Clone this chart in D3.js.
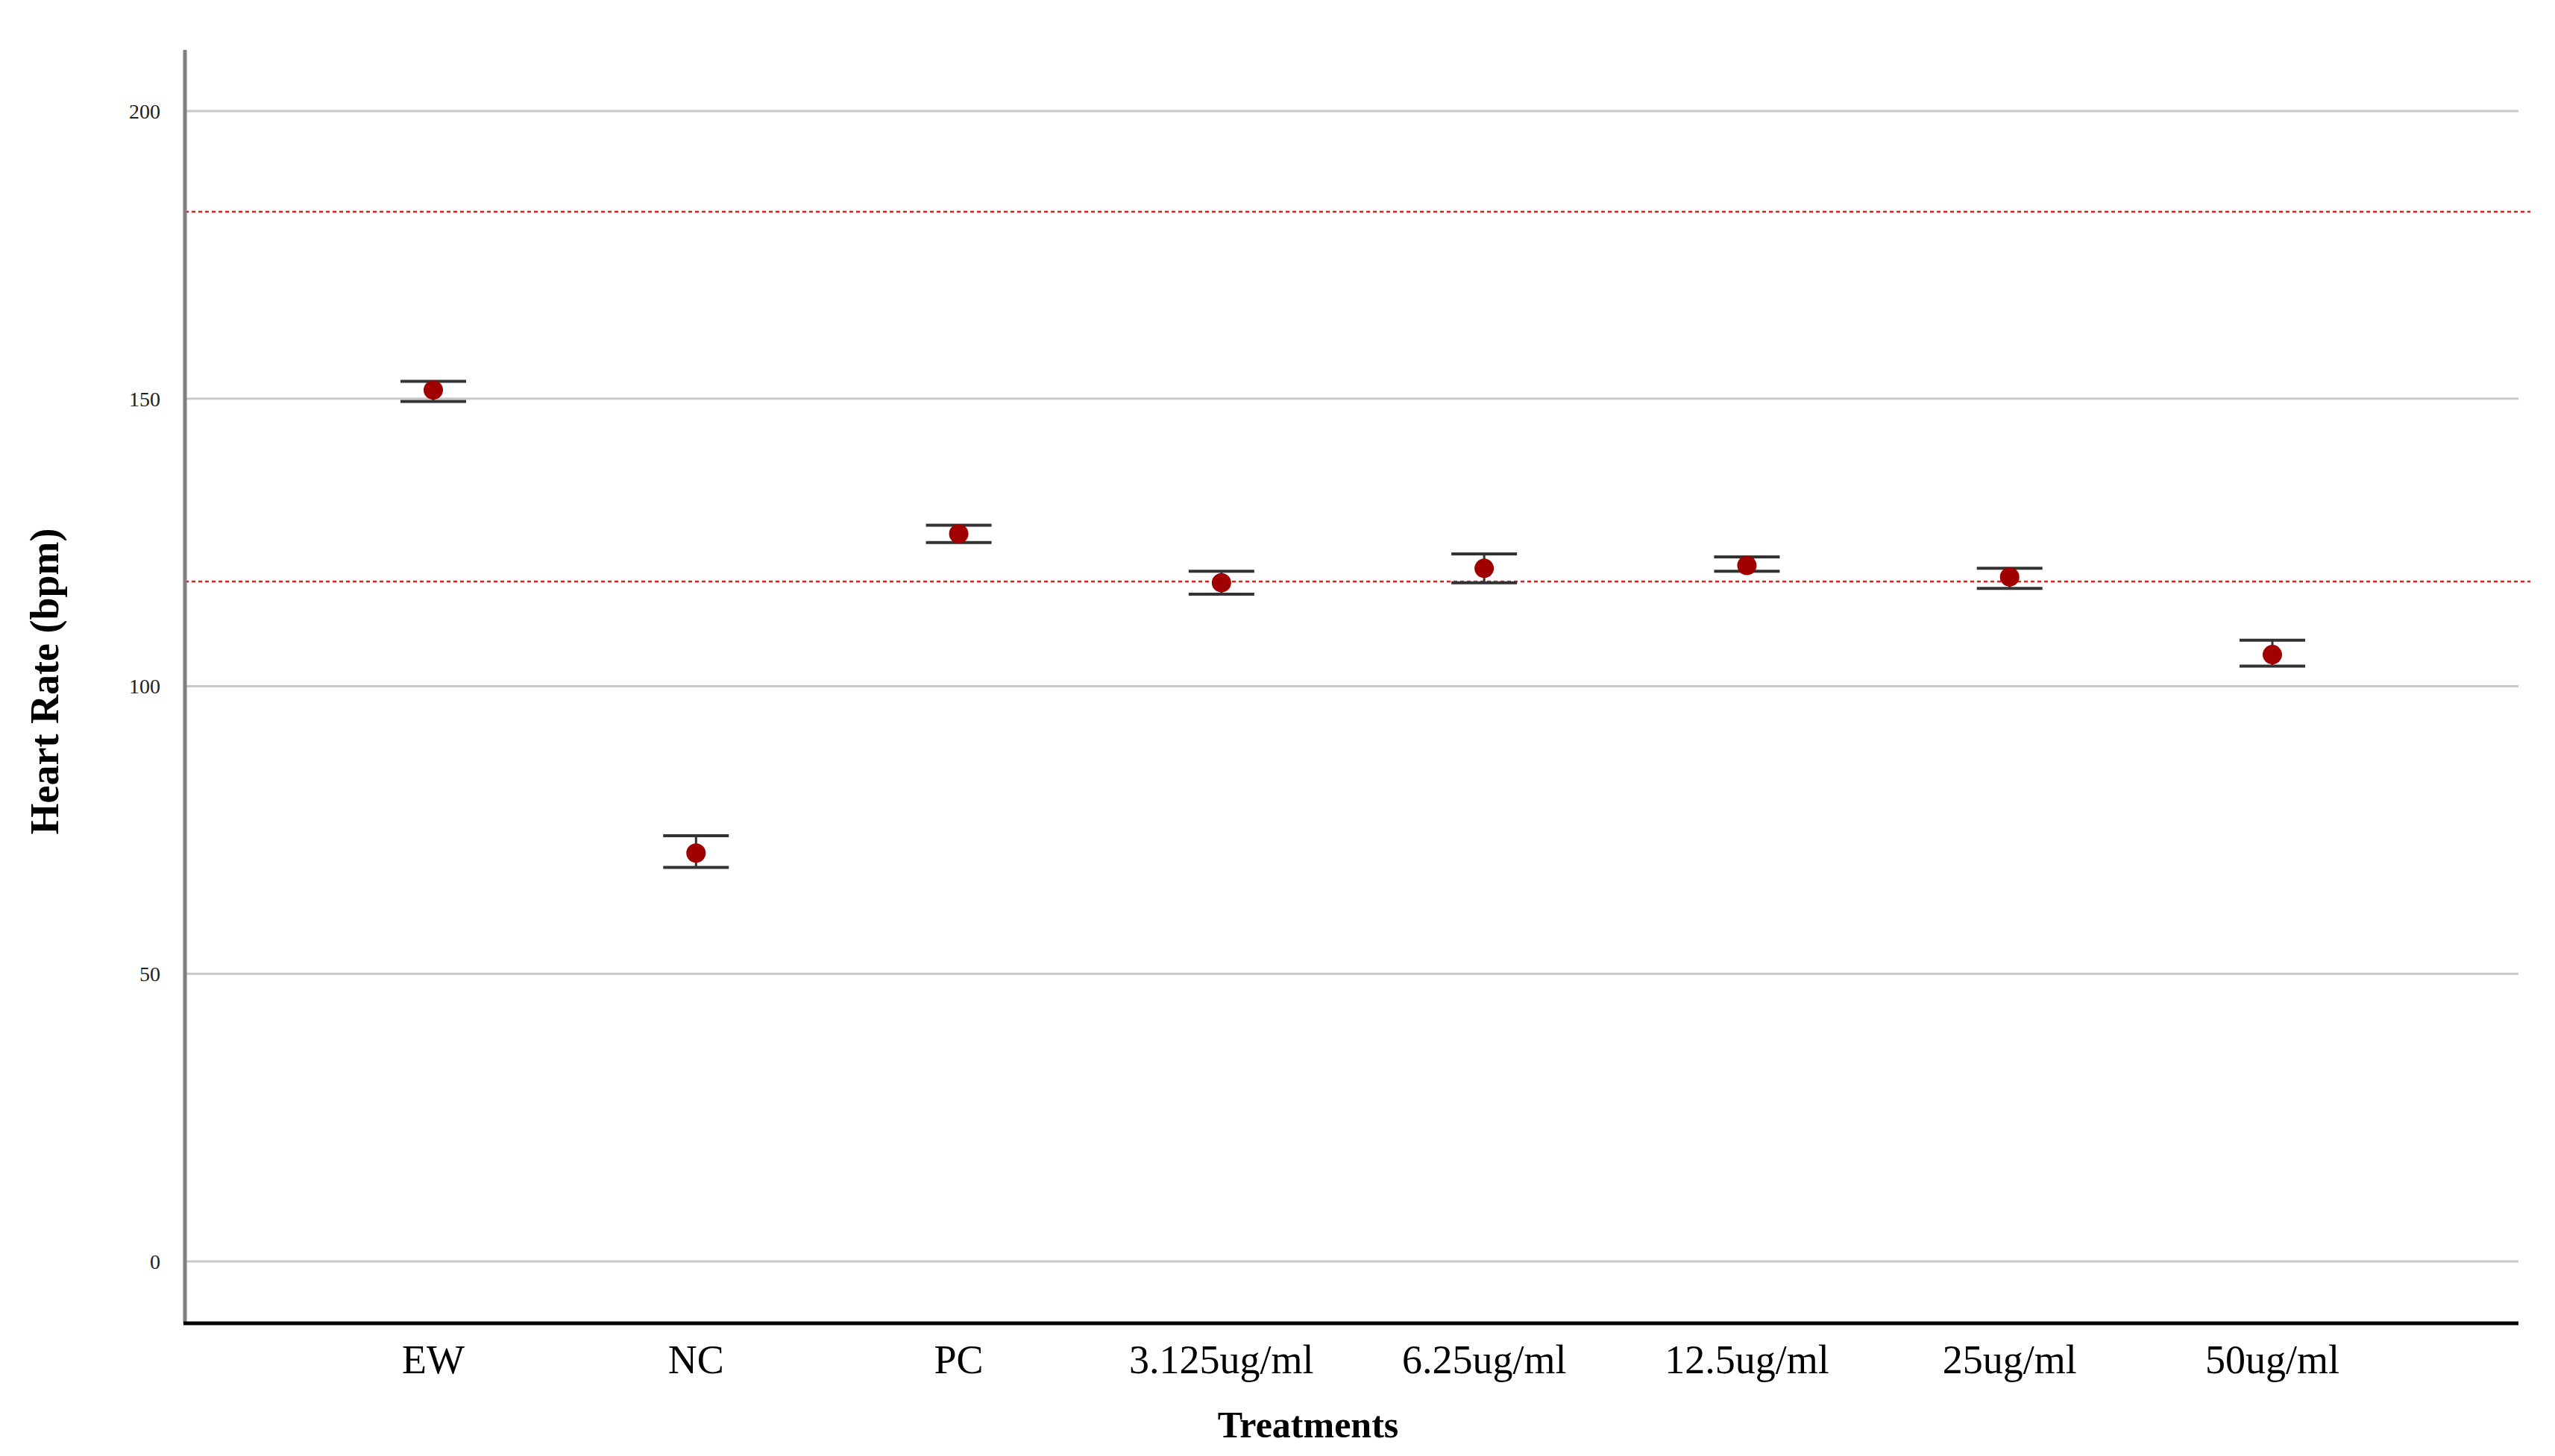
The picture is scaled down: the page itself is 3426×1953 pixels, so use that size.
<!DOCTYPE html>
<html>
<head>
<meta charset="utf-8">
<script src="https://cdn.jsdelivr.net/npm/d3@7"></script>
<style>
  body { margin: 0; background: #fff; }
  text { font-family: "Liberation Serif", "Times New Roman", serif; }
</style>
</head>
<body>
<svg id="chart" width="3426" height="1953"></svg>
<script>
// data
const categories = ["EW", "NC", "PC", "3.125ug/ml", "6.25ug/ml", "12.5ug/ml", "25ug/ml", "50ug/ml"];
const means = [151.5, 71, 126.5, 118, 120.5, 121, 119, 105.5];
const lower = [149.5, 68.5, 125, 116, 118, 120, 117, 103.5];
const upper = [153, 74, 128, 120, 123, 122.5, 120.5, 108];
const refLines = [182.5, 118.2];
const yTicks = [0, 50, 100, 150, 200];

const svg = d3.select("#chart");
const plotLeft = 248, plotRight = 3377, plotTop = 67, plotBottom = 1775;

const y = d3.scaleLinear().domain([0, 200]).range([1692, 149]);
const x = d3.scalePoint().domain(categories).range([581, 3047]);

// gridlines
svg.append("g").selectAll("line").data(yTicks).enter().append("line")
  .attr("x1", plotLeft).attr("x2", plotRight)
  .attr("y1", d => y(d)).attr("y2", d => y(d))
  .attr("stroke", "#c8c8c8").attr("stroke-width", 3);

// tick labels
svg.append("g").selectAll("text").data(yTicks).enter().append("text")
  .attr("x", 215).attr("y", d => y(d)).attr("dy", "0.35em")
  .attr("text-anchor", "end").attr("font-size", 28).attr("fill", "#222")
  .text(d => d);

// reference lines
svg.append("g").selectAll("line").data(refLines).enter().append("line")
  .attr("x1", plotLeft).attr("x2", 3393)
  .attr("y1", d => y(d)).attr("y2", d => y(d))
  .attr("stroke", "#e02020").attr("stroke-width", 2.5)
  .attr("stroke-dasharray", "5,4");

// axes lines
svg.append("line").attr("x1", plotLeft).attr("x2", plotLeft).attr("y1", plotTop).attr("y2", plotBottom)
  .attr("stroke", "#7f7f7f").attr("stroke-width", 5);
svg.append("line").attr("x1", plotLeft - 2).attr("x2", plotRight).attr("y1", plotBottom).attr("y2", plotBottom)
  .attr("stroke", "#000").attr("stroke-width", 5);

// error bars
const rows = categories.map((c, i) => ({ c, m: means[i], lo: lower[i], hi: upper[i] }));
const eb = svg.append("g").selectAll("g").data(rows).enter().append("g");
eb.append("line")
  .attr("x1", d => x(d.c)).attr("x2", d => x(d.c))
  .attr("y1", d => y(d.lo)).attr("y2", d => y(d.hi))
  .attr("stroke", "#333").attr("stroke-width", 3);
eb.selectAll(".cap").data(d => [d.lo, d.hi].map(v => ({ c: d.c, v }))).enter().append("line")
  .attr("x1", d => x(d.c) - 44).attr("x2", d => x(d.c) + 44)
  .attr("y1", d => y(d.v)).attr("y2", d => y(d.v))
  .attr("stroke", "#333").attr("stroke-width", 4);
eb.append("circle")
  .attr("cx", d => x(d.c)).attr("cy", d => y(d.m)).attr("r", 13)
  .attr("fill", "#a00000");

// category labels
svg.append("g").selectAll("text").data(categories).enter().append("text")
  .attr("x", d => x(d)).attr("y", 1842)
  .attr("text-anchor", "middle").attr("font-size", 54).attr("fill", "#000")
  .text(d => d);

// axis titles
svg.append("text").attr("x", 1754).attr("y", 1928)
  .attr("text-anchor", "middle").attr("font-size", 50).attr("font-weight", "bold")
  .text("Treatments");
svg.append("text")
  .attr("transform", "translate(78,914) rotate(-90)")
  .attr("text-anchor", "middle").attr("font-size", 54).attr("font-weight", "bold")
  .text("Heart Rate (bpm)");
</script>
</body>
</html>
